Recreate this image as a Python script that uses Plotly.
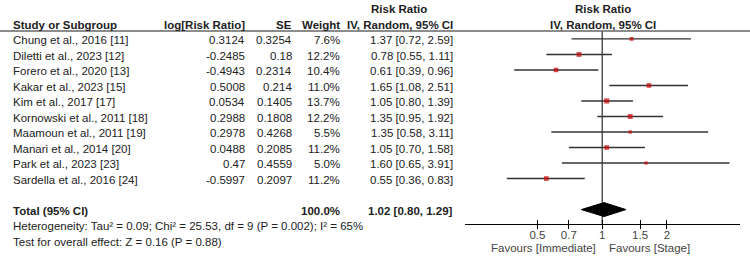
import plotly.graph_objects as go

studies = ["Chung et al., 2016 [11]", "Diletti et al., 2023 [12]", "Forero et al., 2020 [13]",
           "Kakar et al., 2023 [15]", "Kim et al., 2017 [17]", "Kornowski et al., 2011 [18]",
           "Maamoun et al., 2011 [19]", "Manari et al., 2014 [20]", "Park et al., 2023 [23]",
           "Sardella et al., 2016 [24]"]
log_rr = ["0.3124", "-0.2485", "-0.4943", "0.5008", "0.0534", "0.2988", "0.2978", "0.0488", "0.47", "-0.5997"]
se = ["0.3254", "0.18", "0.2314", "0.214", "0.1405", "0.1808", "0.4268", "0.2085", "0.4559", "0.2097"]
weights = [7.6, 12.2, 10.4, 11.0, 13.7, 12.2, 5.5, 11.2, 5.0, 11.2]
rr = [1.37, 0.78, 0.61, 1.65, 1.05, 1.35, 1.35, 1.05, 1.60, 0.55]
lo = [0.72, 0.55, 0.39, 1.08, 0.80, 0.95, 0.58, 0.70, 0.65, 0.36]
hi = [2.59, 1.11, 0.96, 2.51, 1.39, 1.92, 3.11, 1.58, 3.91, 0.83]
total_rr, total_lo, total_hi = 1.02, 0.80, 1.29
total_weight = "100.0%"
tick_vals = [0.5, 0.7, 1, 1.5, 2]
tick_text = ["0.5", "0.7", "1", "1.5", "2"]
heterogeneity = "Heterogeneity: Tau² = 0.09; Chi² = 25.53, df = 9 (P = 0.002); I² = 65%"
overall = "Test for overall effect: Z = 0.16 (P = 0.88)"
fav_left, fav_right = "Favours [Immediate]", "Favours [Stage]"

W, H = 750, 263
L, R = 465, 10
AXIS_PX = 224.5
T, B = 0, H - AXIS_PX
PW = W - L - R
PH = H - T - B
ROW0_PX, ROW_H = 39.0, 15.55
TEXT_DY = 1.2
FONT = "Liberation Sans, Arial, sans-serif"
FS = 11.5
TXT = "#222222"

def px(x):
    return (x - L) / PW

def row_px(r):
    return ROW0_PX + (r - 1) * ROW_H

def py(p):
    return 1 - (p - T) / PH

y_top = 1 + (T - ROW0_PX) / ROW_H
y_bot = 1 + (AXIS_PX - ROW0_PX) / ROW_H

rows = list(range(1, len(studies) + 1))
total_row = 12
fig = go.Figure()

# vertical line at 1
fig.add_trace(go.Scatter(x=[1, 1], y=[0.49, y_bot], mode="lines",
                         line=dict(color="#000000", width=1), hoverinfo="skip", showlegend=False))
# CIs
for r, a, b in zip(rows, lo, hi):
    fig.add_trace(go.Scatter(x=[a, b], y=[r, r], mode="lines",
                             line=dict(color="#333333", width=1.4), hoverinfo="skip", showlegend=False))
# points
fig.add_trace(go.Scatter(x=rr, y=rows, mode="markers",
                         marker=dict(symbol="square", color="#cc0000",
                                     size=[max(3, 1.4 * w ** 0.5) for w in weights], line=dict(width=0)),
                         hoverinfo="skip", showlegend=False))
# diamond
fig.add_trace(go.Scatter(x=[total_lo, total_rr, total_hi, total_rr, total_lo],
                         y=[total_row, total_row - 0.45, total_row, total_row + 0.45, total_row],
                         mode="lines", fill="toself", fillcolor="#000000",
                         line=dict(color="#000000", width=1), hoverinfo="skip", showlegend=False))

ann = []
def add(text, x, r, anchor="left", bold=False, color=TXT, p=None):
    yy = py((row_px(r) if p is None else p) + TEXT_DY)
    ann.append(dict(text=f"<b>{text}</b>" if bold else text, x=px(x), y=yy, xref="paper", yref="paper",
                    xanchor=anchor, yanchor="middle", showarrow=False,
                    font=dict(family=FONT, size=FS, color=color)))

# headers
add("Study or Subgroup", 11, 0, bold=True)
add("log[Risk Ratio]", 247, 0, "right", True)
add("SE", 294, 0, "right", True)
add("Weight", 342, 0, "right", True)
add("Risk Ratio", 399, -1, "center", True)
add("IV, Random, 95% CI", 455, 0, "right", True)
add("Risk Ratio", 603, -1, "center", True)
add("IV, Random, 95% CI", 603, 0, "center", True)

for r, s, l, e, w, v, a, b in zip(rows, studies, log_rr, se, weights, rr, lo, hi):
    add(s, 11, r)
    add(l, 247, r, "right")
    add(e, 294, r, "right")
    add(f"{w:.1f}%", 342, r, "right")
    add(f"{v:.2f} [{a:.2f}, {b:.2f}]", 455, r, "right")

add("Total (95% CI)", 11, total_row, bold=True)
add(total_weight, 342, total_row, "right", True)
add(f"{total_rr:.2f} [{total_lo:.2f}, {total_hi:.2f}]", 455, total_row, "right", True)
add(heterogeneity, 11, 13)
add(overall, 11, 14)
add(fav_left, 598, 0, "right", color="#444444", p=247.5)
add(fav_right, 607, 0, "left", color="#444444", p=247.5)

fig.update_layout(
    width=W, height=H, margin=dict(l=L, r=R, t=T, b=B, pad=0),
    paper_bgcolor="white", plot_bgcolor="white",
    xaxis=dict(type="log", range=[-0.638, 0.641], tickvals=tick_vals, ticktext=tick_text,
               ticks="inside", ticklen=4, tickcolor="#000000", tickwidth=1,
               minor=dict(tickmode="array", tickvals=tick_vals, ticks="outside", ticklen=4,
                          tickcolor="#000000", tickwidth=1, showgrid=False),
               showline=True, linecolor="#000000", linewidth=1, automargin=False,
               showgrid=False, zeroline=False,
               tickfont=dict(family=FONT, size=FS, color="#444444")),
    yaxis=dict(range=[y_bot, y_top], visible=False, showgrid=False, zeroline=False),
    annotations=ann,
    shapes=[dict(type="line", xref="paper", yref="paper", x0=px(0), x1=px(W),
                 y0=py(31), y1=py(31), line=dict(color="#666666", width=1.5))],
    showlegend=False,
)
fig.write_html("out.html", config={"displayModeBar": False},
               post_script="document.body.style.margin='0';document.body.style.overflow='hidden';")
